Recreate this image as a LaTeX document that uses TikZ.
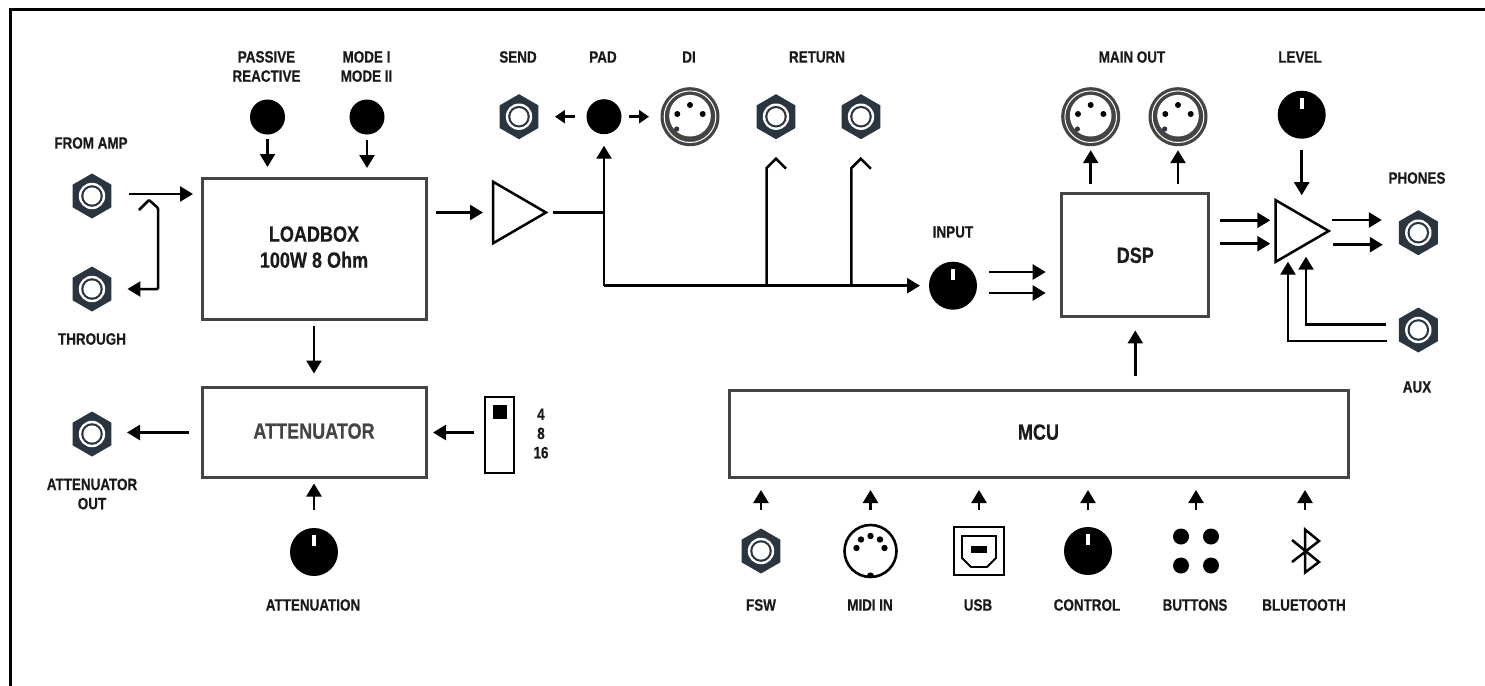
\documentclass[tikz,border=0pt]{standalone}
\usepackage{fontspec}
\setmainfont[FakeStretch=0.82, BoldFeatures={FakeBold=0.5}]{Liberation Sans}
\usetikzlibrary{shapes.geometric, arrows.meta, positioning}
\definecolor{jackgray}{HTML}{2B3540}
\definecolor{xlrgray}{HTML}{444444}
\definecolor{boxgray}{HTML}{444444}
\definecolor{inkgray}{HTML}{1A1A1A}
\tikzset{
    block/.style = {rectangle, draw=boxgray, line width=1.5pt, outer sep=0pt, inner sep=0pt, text depth=1.5pt,
                    font=\fontsize{11}{13}\selectfont\bfseries, text=inkgray, align=center},
    caption/.style = {inner sep=0pt, font=\fontsize{8.2}{9.6}\selectfont\bfseries, text=inkgray, align=center},
    amp/.style = {isosceles triangle, isosceles triangle stretches, draw=black, line width=1.25pt,
                  fill=white, inner sep=0pt, outer sep=0pt, minimum width=30.8pt, minimum height=26.5pt},
    disk/.style = {circle, fill=black, inner sep=0pt, outer sep=0pt, minimum size=17.5pt},
    knob/.style = {circle, fill=black, inner sep=0pt, outer sep=0pt, minimum size=24pt,
                   path picture={\fill[white] ([xshift=-0.9pt, yshift=3pt]path picture bounding box.center) rectangle ([xshift=0.9pt, yshift=8.5pt]path picture bounding box.center);}},
    jack/.style = {regular polygon, regular polygon sides=6, shape border rotate=30, fill=jackgray,
                   inner sep=0pt, outer sep=0pt, minimum size=22.5pt,
                   path picture={
                       \fill[white] (path picture bounding box.center) circle (6.6pt);
                       \fill[jackgray] (path picture bounding box.center) circle (5.4pt);
                       \fill[white] (path picture bounding box.center) circle (4.3pt);}},
    xlr/.style = {circle, fill=xlrgray, inner sep=0pt, outer sep=0pt, minimum size=29.5pt,
                  path picture={
                      \begin{scope}[shift={(path picture bounding box.center)}]
                          \draw[white, line width=0.5pt] (0,0) circle (12.9pt);
                          \fill[white] (0,-1) circle (10.4pt);
                          \fill[black] (-12.7,-2.7) circle (1.5pt);
                          \fill[black] (0,-11.7) circle (1.5pt);
                          \fill[black] (12.7,-2.7) circle (1.5pt);
                          \fill[jackgray] (-13.3,12.3) circle (1.3pt);
                      \end{scope}}},
    midi/.style = {circle, draw=black, line width=1.3pt, inner sep=0pt, outer sep=0pt, minimum size=26pt,
                   path picture={
                       \begin{scope}[shift={(path picture bounding box.center)}]
                           \fill[black] (-14,-3) circle (1.6pt);
                           \fill[black] (-9.5,-11.5) circle (1.6pt);
                           \fill[black] (0,-15) circle (1.6pt);
                           \fill[black] (9.5,-11.5) circle (1.6pt);
                           \fill[black] (14,-3) circle (1.6pt);
                           \fill[black] (0,25) circle (1.8pt);
                       \end{scope}}},
    usbport/.style = {rectangle, draw=black, line width=1.3pt, inner sep=0pt, outer sep=0pt,
                      minimum width=25pt, minimum height=24pt,
                      path picture={
                          \begin{scope}[shift={(path picture bounding box.center)}]
                              \draw[black, line width=0.9pt] (-17,-15) -- (17,-15) -- (17,7) -- (8,16) -- (-8,16) -- (-17,7) -- cycle;
                              \fill[black] (-8,-5) rectangle (8,2);
                          \end{scope}}},
    buttons/.style = {rectangle, inner sep=0pt, outer sep=0pt, minimum width=24pt, minimum height=23pt,
                      path picture={
                          \begin{scope}[shift={(path picture bounding box.center)}]
                              \fill[black] (-15,-14.5) circle (4pt);
                              \fill[black] (15,-14.5) circle (4pt);
                              \fill[black] (-15,14.5) circle (4pt);
                              \fill[black] (15,14.5) circle (4pt);
                          \end{scope}}},
    bluetooth/.style = {rectangle, inner sep=0pt, outer sep=0pt, minimum width=17pt, minimum height=24pt,
                        path picture={
                            \begin{scope}[shift={(path picture bounding box.center)}]
                                \draw[black, line width=1.25pt] (-13,-11) -- (14,11) -- (0,21.5) -- (0,-21.5) -- (14,-10) -- (-13,11);
                            \end{scope}}},
    slider/.style = {rectangle, draw=black, line width=1.3pt, inner sep=0pt, outer sep=0pt,
                     minimum width=14.5pt, minimum height=38pt,
                     path picture={
                         \begin{scope}[shift={(path picture bounding box.center)}]
                             \fill[black] (-7,-30) rectangle (7,-16);
                         \end{scope}}},
    wire/.style = {line width=1.25pt, draw=black},
    arrow/.style = {wire, -{Triangle[length=6.5pt, width=7.5pt]}},
    smallarrow/.style = {wire, -{Triangle[length=5pt, width=6.5pt]}},
    gaps/.style 2 args = {shorten <=#1*0.5pt, shorten >=#2*0.5pt},
    frame/.style = {line width=1.5pt, draw=black},
}
\begin{document}
\begin{tikzpicture}[x=0.5pt, y=-0.5pt]
\useasboundingbox (0,0) rectangle (1485,686);
\draw[frame] (10,686) -- (10,9.5) -- (1485,9.5);

% Loadbox side
\node (fromamp) [jack] at (92,196) {};
\node (through) [jack] at (92,289) {};
\node (passive) [disk] at (267.5,117) {};
\node (mode) [disk] at (367,117) {};
\node (loadbox) [block, minimum width=112pt, minimum height=70.5pt] at (314,248.5) {LOADBOX\\100W 8 Ohm};
\node (attenuator) [block, text=boxgray, minimum width=112pt, minimum height=45pt] at (314,432.5) {ATTENUATOR};
\node (attout) [jack] at (92,434) {};
\node (ohms) [slider] at (499.5,435) {};
\node (attenuation) [knob] at (314,552) {};

% Signal path
\node (amp1) [amp, anchor=lower side] at (493,212.5) {};
\node (send) [jack] at (519,116.7) {};
\node (pad) [disk] at (604,116.7) {};
\node (di) [xlr] at (690,116.7) {};
\node (return1) [jack] at (776,116.7) {};
\node (return2) [jack] at (861,116.7) {};
\node (input) [knob] at (953,285.7) {};
\node (dsp) [block, text depth=0pt, minimum width=73.6pt, minimum height=61.5pt] at (1135.3,255.2) {DSP};
\node (mainout1) [xlr] at (1090.7,116.7) {};
\node (mainout2) [xlr] at (1178,116.7) {};
\node (level) [knob] at (1301.7,114.7) {};
\node (amp2) [amp, anchor=lower side] at (1275.7,231) {};
\node (phones) [jack] at (1418.3,232.7) {};
\node (aux) [jack] at (1418.3,330) {};

% Control side
\node (mcu) [block, minimum width=309.5pt, minimum height=43.5pt] at (1038.5,433.5) {MCU};
\node (fsw) [jack] at (761,551) {};
\node (midiin) [midi] at (870.5,551) {};
\node (usb) [usbport] at (979,551) {};
\node (control) [knob] at (1088,551) {};
\node (btn) [buttons] at (1196,551) {};
\node (bt) [bluetooth] at (1305,551) {};

% Captions
\node (fromamplabel) [caption] at (91,143) {FROM AMP};
\node (throughlabel) [caption] at (92,339) {THROUGH};
\node (passivelabel) [caption] at (266.5,66.5) {PASSIVE\\REACTIVE};
\node (modelabel) [caption] at (366.5,66.5) {MODE I\\MODE II};
\node (attoutlabel) [caption] at (92,494) {ATTENUATOR\\OUT};
\node (ohmslabel) [caption] at (541,433.5) {4\\8\\16};
\node (attenuationlabel) [caption] at (313,605) {ATTENUATION};
\node (sendlabel) [caption] at (518,57) {SEND};
\node (padlabel) [caption] at (603,57) {PAD};
\node (dilabel) [caption] at (689,57) {DI};
\node (returnlabel) [caption] at (817,57) {RETURN};
\node (inputlabel) [caption] at (953,232) {INPUT};
\node (mainoutlabel) [caption] at (1132,57) {MAIN OUT};
\node (levellabel) [caption] at (1300,57) {LEVEL};
\node (phoneslabel) [caption] at (1417,178) {PHONES};
\node (auxlabel) [caption] at (1417,387) {AUX};
\node (fswlabel) [caption] at (761,605) {FSW};
\node (midilabel) [caption] at (870,605) {MIDI IN};
\node (usblabel) [caption] at (978,605) {USB};
\node (controllabel) [caption] at (1087,605) {CONTROL};
\node (btnlabel) [caption] at (1195,605) {BUTTONS};
\node (btlabel) [caption] at (1304,605) {BLUETOOTH};

% Free ends
\coordinate (ampin) at (129,194);
\coordinate (hook) at (139,210);
\coordinate (tap) at (pad |- amp1.apex);
\coordinate (bus) at (pad |- input);
\coordinate (bus1) at (766.5,285.7);
\coordinate (bus2) at (851.3,285.7);
\coordinate (inl) at (989,272);
\coordinate (inr) at (989,293);
\coordinate (dspl) at (1220.3,220.3);
\coordinate (dspr) at (1220.3,243.7);
\coordinate (phl) at (1332.3,220);
\coordinate (phr) at (1333,244.7);
\coordinate (auxl) at (1385.7,324.7);
\coordinate (auxr) at (1387,341);
\coordinate (auxltip) at (1306,256.7);
\coordinate (auxrtip) at (1288,261.7);

% Arrows
\draw[arrow, gaps={0}{9}] (ampin) -- (ampin -| loadbox.west);
\draw[arrow, gaps={0}{16}, rounded corners=0.5pt] (hook) -- ++(10,-10) -- ++(9,8) |- (through.east);
\draw[arrow, gaps={4}{11}] (passive) -- (passive |- loadbox.north);
\draw[arrow, gaps={5}{10}] (mode) -- (mode |- loadbox.north);
\draw[arrow, gaps={7}{14}] (loadbox) -- (attenuator);
\draw[arrow, gaps={13}{35}] (attenuator.west) -- (attenuator.west -| attout);
\draw[arrow, gaps={11}{7}] (ohms.west |- attenuator.east) -- (attenuator.east);
\draw[arrow, gaps={18}{6}] (attenuation) -- (attenuation |- attenuator.south);
\draw[arrow, gaps={10}{10}] (amp1.lower side -| loadbox.east) -- (amp1.lower side);
\draw[wire, gaps={7}{0}] (amp1.apex) -- (tap);
\draw[arrow, gaps={0}{11.5}] (bus) -- (pad);
\draw[arrow, gaps={0}{9}] (bus) -- (input);
\draw[smallarrow, gaps={11.5}{16.5}] (pad) -- (send);
\draw[smallarrow, gaps={7.5}{11.5}] (pad) -- (di);
\draw[wire] (bus1) -- ++(0,-117.5) -- ++(9.5,-9.5) -- ++(10,10);
\draw[wire] (bus2) -- ++(0,-117.5) -- ++(9.5,-9.5) -- ++(10,10);
\draw[arrow, gaps={0}{16}] (inl) -- (inl -| dsp.west);
\draw[arrow, gaps={0}{16}] (inr) -- (inr -| dsp.west);
\draw[arrow, gaps={10}{4}] (mainout1 |- dsp.north) -- (mainout1);
\draw[arrow, gaps={10}{4}] (mainout2 |- dsp.north) -- (mainout2);
\draw[arrow, gaps={0}{5.4}] (dspl) -- (dspl -| amp2.lower side);
\draw[arrow, gaps={0}{5.4}] (dspr) -- (dspr -| amp2.lower side);
\draw[arrow, gaps={11}{5}] (level) -- (level |- amp2.left corner);
\draw[arrow, gaps={0}{17}] (phl) -- (phl -| phones.west);
\draw[arrow, gaps={0}{16}] (phr) -- (phr -| phones.west);
\draw[arrow] (auxl) -| (auxltip);
\draw[arrow] (auxr) -| (auxrtip);
\draw[arrow, gaps={14}{13.7}] (dsp |- mcu.north) -- (dsp);
\draw[arrow, gaps={18.5}{13}] (fsw) -- (fsw |- mcu.south);
\draw[arrow, gaps={15}{13}] (midiin) -- (midiin |- mcu.south);
\draw[arrow, gaps={16.7}{13}] (usb) -- (usb |- mcu.south);
\draw[arrow, gaps={17}{13}] (control) -- (control |- mcu.south);
\draw[arrow, gaps={18}{13}] (btn) -- (btn |- mcu.south);
\draw[arrow, gaps={17}{13}] (bt) -- (bt |- mcu.south);
\end{tikzpicture}
\end{document}
